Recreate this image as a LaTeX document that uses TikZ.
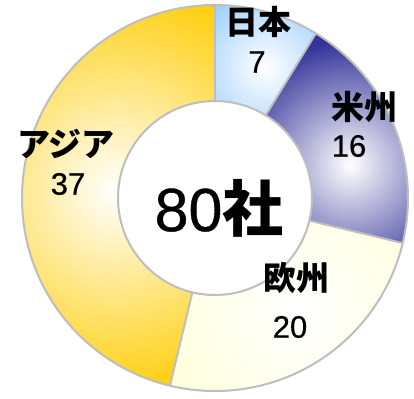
\documentclass[tikz,border=0pt]{standalone}
\usepackage{fontspec}
\setmainfont{Liberation Sans}
\newfontfamily\numfont{Liberation Sans}[FakeBold=0.6]
\newfontfamily\jpfont{Noto Sans CJK JP}
\definecolor{nihonblue}{RGB}{153,204,255}
\definecolor{beishunavy}{RGB}{51,51,153}
\definecolor{oushucream}{RGB}{255,255,204}
\definecolor{ajiagold}{RGB}{255,204,0}
\definecolor{ringgrey}{RGB}{190,190,190}
\def\ringpath(#1:#2){(#1:193) arc (#1:#2:193) -- (#2:97) arc (#2:#1:97) -- cycle}
\def\ringpiece[#1](#2:#3)(#4)(#5){\begin{scope}
		\clip \ringpath(#2:#3);
		\fill[#1] (0,0) circle (200);
		\shade[inner color=white, outer color=#1] (#4) circle (#5);
	\end{scope}}

\begin{document}
\begin{tikzpicture}[x=1pt, y=1pt,
		jplabel/.style={font=\jpfont\bfseries\fontsize{33}{33}\selectfont, inner sep=0},
		numlabel/.style={font=\numfont\fontsize{31}{31}\selectfont, inner sep=0}]
			%%%%% START %%%%%
			
			\fill[white] (-215, -200) rectangle (199, 198);
			\useasboundingbox (-215, -200) rectangle (199, 198);
			
			\ringpiece[nihonblue](90:58.5)(50, 130)(85);
			\ringpiece[beishunavy](58.5:-13.5)(135, 33)(125);
			\ringpiece[oushucream](-13.5:-103.5)(85, -112)(220);
			\ringpiece[ajiagold](-103.5:-270)(-100, 8)(215);
			
			\draw[ringgrey, line width=2] (90:97) -- (90:193);
			\draw[ringgrey, line width=2] (58.5:97) -- (58.5:193);
			\draw[ringgrey, line width=2] (-13.5:97) -- (-13.5:193);
			\draw[ringgrey, line width=2] (-103.5:97) -- (-103.5:193);
			\draw[ringgrey, line width=2] (0, 0) circle (193);
			\draw[ringgrey, line width=2, fill=white] (0, 0) circle (97);
			
			\node[jplabel] (nihon) at (43, 176) {日本};
			\node[numlabel] (nihonnum) at (42, 136) {7};
			\node[jplabel] (beishu) at (149, 91) {米州};
			\node[numlabel] (beishunum) at (134, 52) {16};
			\node[jplabel] (oushu) at (81, -80) {欧州};
			\node[numlabel] (oushunum) at (75, -129) {20};
			\node[jplabel] (ajia) at (-149, 54) {アジア};
			\node[numlabel] (ajianum) at (-147, 14) {37};
			
			\node[inner sep=0] (total) at (4, -10) {\fontsize{61}{61}\selectfont\numfont 80\jpfont\bfseries 社};
			
			%%%%% END %%%%%
\end{tikzpicture}
\end{document}
